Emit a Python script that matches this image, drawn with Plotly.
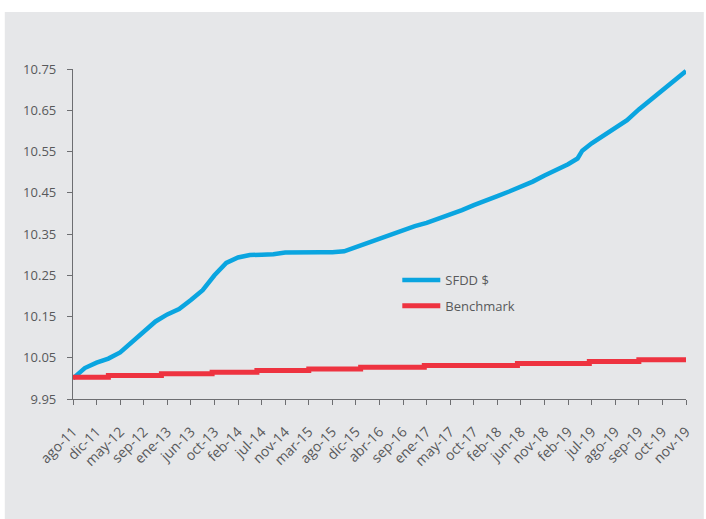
import plotly.graph_objects as go

# Category tick labels (evenly spaced categories on the x axis)
tick_labels = ["ago-11", "dic-11", "may-12", "sep-12", "ene-13", "jun-13", "oct-13",
               "feb-14", "jul-14", "nov-14", "mar-15", "ago-15", "dic-15", "abr-16",
               "sep-16", "ene-17", "may-17", "oct-17", "feb-18", "jun-18", "nov-18",
               "feb-19", "jul-19", "ago-19", "sep-19", "oct-19", "nov-19"]

# SFDD $ series: position along the category axis (in category units) and value
sfdd_pos = [0, 0.5, 1, 1.5, 2, 2.5, 3, 3.5, 4, 4.5, 5, 5.5, 6, 6.5, 7, 7.5, 8, 8.5,
            9, 9.5, 10, 10.5, 11, 11.5, 12, 12.5, 13, 13.5, 14, 14.5, 15, 15.5, 16,
            16.5, 17, 17.5, 18, 18.5, 19, 19.5, 20, 20.5, 21, 21.4, 21.6, 22, 22.5,
            23, 23.5, 24, 24.5, 25, 25.5, 26]
sfdd_values = [10.000, 10.025, 10.038, 10.048, 10.063, 10.088, 10.115, 10.138, 10.155,
               10.168, 10.190, 10.214, 10.250, 10.280, 10.293, 10.299, 10.300, 10.301,
               10.305, 10.306, 10.306, 10.306, 10.306, 10.308, 10.318, 10.328, 10.339,
               10.350, 10.360, 10.369, 10.377, 10.387, 10.398, 10.408, 10.420, 10.430,
               10.442, 10.453, 10.464, 10.477, 10.492, 10.505, 10.519, 10.533, 10.552,
               10.570, 10.588, 10.605, 10.626, 10.652, 10.675, 10.697, 10.720, 10.745]

# Benchmark series (step-like)
bench_pos = [0, 1.5, 3.75, 5.9, 7.8, 10.0, 12.2, 14.9, 18.85, 21.9, 24.0, 26]
bench_values = [10.003, 10.007, 10.011, 10.015, 10.019, 10.023, 10.027, 10.031,
                10.036, 10.041, 10.045, 10.045]

y_ticks = [9.95, 10.05, 10.15, 10.25, 10.35, 10.45, 10.55, 10.65, 10.75]

BLUE = "#0aa5e0"
RED = "#ee3340"
AXIS = "#6d6e71"
TEXT = "#58595b"
BG = "#e6e7e9"

fig = go.Figure()
fig.add_trace(go.Scatter(x=sfdd_pos, y=sfdd_values, mode="lines", name="SFDD $",
                         legendgroup="a",
                         line=dict(color=BLUE, width=4.5)))
fig.add_trace(go.Scatter(x=bench_pos, y=bench_values, mode="lines", name="Benchmark",
                         legendgroup="b",
                         line=dict(color=RED, width=5, shape="hv")))

W, H = 706, 519
L, R, T, B = 73, 13, 69, 120
pw, ph = W - L - R, H - T - B

def px_x(p):
    return (p - L) / pw

def px_y(p):
    return (H - B - p) / ph

fig.add_shape(type="rect", xref="paper", yref="paper",
              x0=px_x(4), x1=px_x(W + 5), y0=px_y(H + 5), y1=px_y(12),
              fillcolor=BG, line=dict(width=0), layer="below")

axis_common = dict(showgrid=False, zeroline=False, linecolor=AXIS, linewidth=1.3,
                   tickcolor=AXIS, tickwidth=1.3, ticklen=5)

fig.update_layout(
    width=W, height=H, autosize=False,
    margin=dict(l=L, r=R, t=T, b=B),
    paper_bgcolor="white", plot_bgcolor="rgba(0,0,0,0)",
    font=dict(family="Open Sans", size=13, color=TEXT),
    xaxis=dict(range=[0, 26], tickmode="array", tickvals=list(range(len(tick_labels))),
               ticktext=tick_labels, tickangle=-45, ticks="outside", showline=True,
               ticklabelstandoff=13,
               tickfont=dict(size=14, color=TEXT), **axis_common),
    xaxis2=dict(range=[0, 26], overlaying="x", anchor="y", tickmode="array",
                tickvals=list(range(len(tick_labels))), ticks="inside",
                showticklabels=False, showline=False, **axis_common),
    yaxis=dict(range=[9.95, 10.75], tickmode="array", tickvals=y_ticks,
               tickformat=".2f", ticks="outside", showline=True,
               ticklabelstandoff=8, tickfont=dict(size=13, color=TEXT), **axis_common),
    yaxis2=dict(range=[9.95, 10.75], overlaying="y", anchor="x", tickmode="array",
                tickvals=y_ticks, ticks="inside", showticklabels=False,
                showline=False, **axis_common),
    legend=dict(x=px_x(401), y=px_y(265), xanchor="left", yanchor="top",
                bgcolor="rgba(0,0,0,0)", font=dict(size=13, color=TEXT),
                tracegroupgap=6, itemwidth=38),
    showlegend=True,
)

fig.write_html("out.html", config={"displayModeBar": False},
               post_script="document.body.style.margin='0px';")
